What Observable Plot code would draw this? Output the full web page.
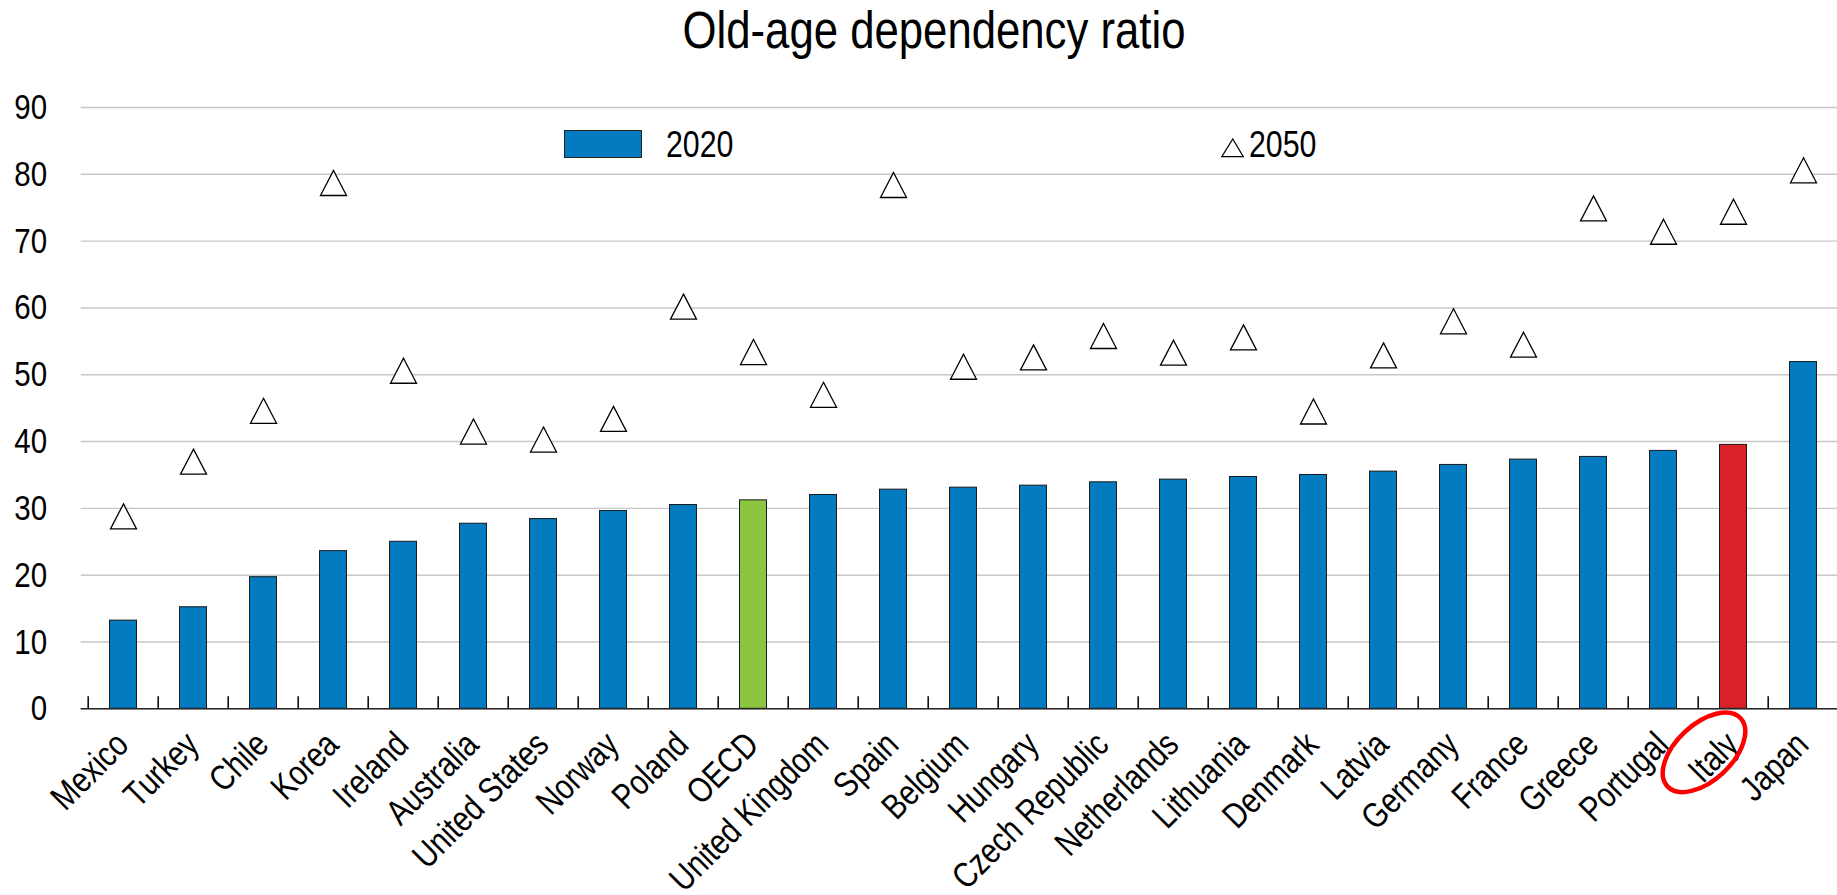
<!DOCTYPE html>
<html><head><meta charset="utf-8">
<script src="https://cdn.jsdelivr.net/npm/d3@7"></script>
<script src="https://cdn.jsdelivr.net/npm/@observablehq/plot@0.6"></script>
<style>
html,body{margin:0;padding:0;background:#fff;overflow:hidden;}
#wrap{position:relative;width:1837px;height:895px;font-family:"Liberation Sans Narrow","Arial Narrow","Liberation Sans",sans-serif;}
#title{position:absolute;left:934px;top:4.8px;transform:translateX(-50%) scaleX(0.857);font-size:51px;line-height:51px;white-space:nowrap;color:#000;}
#chart{position:absolute;left:0;top:60px;}
.leg{position:absolute;font-size:37px;line-height:37px;white-space:nowrap;color:#000;transform-origin:0 50%;transform:scaleX(0.82);}
</style></head><body>
<div id="wrap">
  <div id="title">Old-age dependency ratio</div>
  <div id="chart"></div>
</div>
<script>
const categories = ["Mexico","Turkey","Chile","Korea","Ireland","Australia","United States","Norway","Poland","OECD","United Kingdom","Spain","Belgium","Hungary","Czech Republic","Netherlands","Lithuania","Denmark","Latvia","Germany","France","Greece","Portugal","Italy","Japan"];
const values2020 = [13.2,15.2,19.7,23.6,25.0,27.7,28.4,29.6,30.5,31.2,32.0,32.8,33.1,33.4,33.9,34.3,34.7,35.0,35.5,36.5,37.3,37.7,38.6,39.5,51.9];
const values2050 = [28.8,37.0,44.6,78.7,50.6,41.5,40.3,43.4,60.2,53.4,47.0,78.4,51.2,52.6,55.8,53.3,55.6,44.5,52.9,58.0,54.5,74.9,71.4,74.4,80.6];
const yTicks = [0,10,20,30,40,50,60,70,80,90];
const seriesLabels = ["2020","2050"];
const annotated = "Italy";

const BLUE = "#037BC1", GREEN = "#8CC641", RED = "#DA2128";
const colorOf = c => c === "OECD" ? GREEN : c === "Italy" ? RED : BLUE;

const table = categories.map((c, i) => ({country: c, v2020: values2020[i], v2050: values2050[i], color: colorOf(c)}));

const W = 1837, H = 835, mL = 80.7, mR = -9.3, mT = 47, mB = 186.7;
const step = (W - mL - mR) / categories.length;
const tickLen = 12 * 90 / (H - mT - mB);
const NARROW = 0.82;

const tri = {draw(ctx) { const w = 13, h = 12.5; ctx.moveTo(0, -h); ctx.lineTo(w, h); ctx.lineTo(-w, h); ctx.closePath(); }};

const plot = Plot.plot({
  width: W, height: H,
  marginLeft: mL, marginRight: mR, marginTop: mT, marginBottom: mB,
  style: {fontFamily: '"Liberation Sans Narrow","Arial Narrow","Liberation Sans",sans-serif', background: "white", overflow: "hidden"},
  x: {type: "band", domain: categories, padding: 0, axis: null},
  y: {domain: [0, 90], axis: null},
  marks: [
    Plot.gridY(yTicks, {stroke: "#c8c8c8", strokeOpacity: 1, strokeWidth: 1.4}),
    Plot.barY(table, {x: "country", y: "v2020", fill: "color", stroke: "#1a1a1a", strokeWidth: 1, insetLeft: 21.5, insetRight: 21.5}),
    Plot.ruleX(categories, {x: d => d, y1: 0, y2: tickLen, dx: -step / 2, stroke: "#000", strokeWidth: 1.5}),
    Plot.ruleY([0], {stroke: "#262626", strokeWidth: 1.6}),
    Plot.dot(table, {x: "country", y: "v2050", symbol: tri, fill: "white", stroke: "#000", strokeWidth: 1.3}),
    Plot.text(categories, {x: d => d, text: d => d, frameAnchor: "bottom", rotate: -45, textAnchor: "end", lineAnchor: "bottom", dx: 7, dy: 38, fontSize: 35.5, fill: "#000", ariaLabel: "x-labels"}),
    Plot.axisY(yTicks, {tickSize: 0, tickPadding: 34, fontSize: 36, label: null, tickFormat: d => String(d), fill: "#000"})
  ]
});
document.getElementById("chart").appendChild(plot);

// condense the sans-serif text (Arial Narrow look) along its own baseline
d3.select(plot).selectAll("text").each(function() {
  const t = this.getAttribute("transform") || "";
  this.setAttribute("transform", (t + ` scale(${NARROW},1)`).trim());
});

// annotation ellipse around the highlighted label, positioned through the plot's scales
const xs = plot.scale("x"), ys = plot.scale("y");
const cx = xs.apply(annotated) + xs.bandwidth / 2 - 29;
const cy = ys.apply(0) + 44;
d3.select(plot).append("ellipse")
  .attr("cx", cx).attr("cy", cy).attr("rx", 50).attr("ry", 28)
  .attr("transform", `rotate(-43 ${cx} ${cy})`)
  .attr("fill", "none").attr("stroke", "#ff0000").attr("stroke-width", 4.5);

// legend
const wrap = document.getElementById("wrap");
const sw = document.createElement("div");
Object.assign(sw.style, {position: "absolute", left: "564.3px", top: "129.5px", width: "77.5px", height: "28.5px", boxSizing: "border-box", background: BLUE, border: "1px solid #222"});
wrap.appendChild(sw);
const l1 = document.createElement("div");
l1.className = "leg"; l1.style.left = "665.5px"; l1.style.top = "125.7px"; l1.textContent = seriesLabels[0];
wrap.appendChild(l1);
const ts = document.createElementNS("http://www.w3.org/2000/svg", "svg");
ts.setAttribute("width", "28"); ts.setAttribute("height", "24");
Object.assign(ts.style, {position: "absolute", left: "1219px", top: "136px"});
ts.innerHTML = '<path d="M13.8,3 L24.3,20.6 L2.8,20.6 Z" fill="white" stroke="#000" stroke-width="1.2"/>';
wrap.appendChild(ts);
const l2 = document.createElement("div");
l2.className = "leg"; l2.style.left = "1248.7px"; l2.style.top = "125.7px"; l2.textContent = seriesLabels[1];
wrap.appendChild(l2);
</script>
</body></html>
